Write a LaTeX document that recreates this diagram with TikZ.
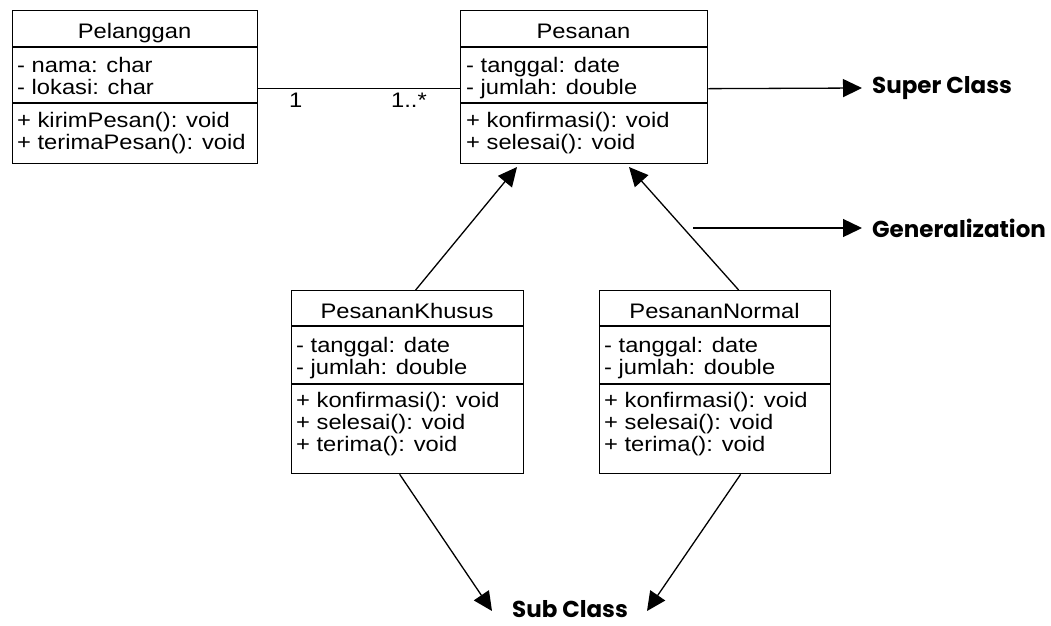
\documentclass[tikz,border=0pt]{standalone}
\usepackage{fontspec}
\setmainfont{Liberation Sans}[FakeStretch=1.13]
\newfontfamily\tagfont{Poppins}
\usetikzlibrary{arrows.meta,calc}

\begin{document}
\begin{tikzpicture}[x=1pt,y=-1pt,
  box/.style={draw, line width=1.3pt, inner sep=0pt, anchor=north west},
  txt/.style={inner sep=0pt, anchor=base west, font=\fontsize{21}{24}\selectfont},
  ttl/.style={inner sep=0pt, anchor=base, font=\fontsize{21}{24}\selectfont},
  sep/.style={line width=1.3pt},
  link/.style={line width=1.3pt},
  arr/.style={line width=1.3pt, -{Triangle[length=19pt,width=18pt]}},
  tag/.style={inner sep=0pt, font=\tagfont\bfseries\fontsize{23}{26}\selectfont}
]
\fill[white] (0,0) rectangle (1051,625);
\useasboundingbox (0,0) rectangle (1051,625);

% ---- Pelanggan ----
\node[box, minimum width=245pt, minimum height=153pt] (pelanggan) at (12,10) {};
\draw[sep] (12,47) -- (257,47);
\draw[sep] (12,103) -- (257,103);
\node[ttl] (pelanggan-t) at (134.5,38) {Pelanggan};
\node[txt] (pelanggan-a1) at (17,72) {- nama: char};
\node[txt] (pelanggan-a2) at (17,94) {- lokasi: char};
\node[txt] (pelanggan-m1) at (17,127) {+ kirimPesan(): void};
\node[txt] (pelanggan-m2) at (17,149) {+ terimaPesan(): void};

% ---- Pesanan ----
\node[box, minimum width=247pt, minimum height=153pt] (pesanan) at (460,10) {};
\draw[sep] (460,47) -- (707,47);
\draw[sep] (460,103) -- (707,103);
\node[ttl] (pesanan-t) at (583.5,38) {Pesanan};
\node[txt] (pesanan-a1) at (466,72) {- tanggal: date};
\node[txt] (pesanan-a2) at (466,94) {- jumlah: double};
\node[txt] (pesanan-m1) at (466,127) {+ konfirmasi(): void};
\node[txt] (pesanan-m2) at (466,149) {+ selesai(): void};

% ---- PesananKhusus ----
\node[box, minimum width=232pt, minimum height=183pt] (khusus) at (291,290) {};
\draw[sep] (291,326) -- (523,326);
\draw[sep] (291,384) -- (523,384);
\node[ttl] (khusus-t) at (407,318) {PesananKhusus};
\node[txt] (khusus-a1) at (296,352) {- tanggal: date};
\node[txt] (khusus-a2) at (296,374) {- jumlah: double};
\node[txt] (khusus-m1) at (296,407) {+ konfirmasi(): void};
\node[txt] (khusus-m2) at (296,429) {+ selesai(): void};
\node[txt] (khusus-m3) at (296,451) {+ terima(): void};

% ---- PesananNormal ----
\node[box, minimum width=231pt, minimum height=183pt] (normal) at (599,290) {};
\draw[sep] (599,326) -- (830,326);
\draw[sep] (599,384) -- (830,384);
\node[ttl] (normal-t) at (714.5,318) {PesananNormal};
\node[txt] (normal-a1) at (604,352) {- tanggal: date};
\node[txt] (normal-a2) at (604,374) {- jumlah: double};
\node[txt] (normal-m1) at (604,407) {+ konfirmasi(): void};
\node[txt] (normal-m2) at (604,429) {+ selesai(): void};
\node[txt] (normal-m3) at (604,451) {+ terima(): void};

% ---- association with multiplicities ----
\draw[link] ([yshift=-1.5pt]pelanggan.east) -- ([yshift=-1.5pt]pesanan.west);
\node[txt] (mult-a) at (289,107) {1};
\node[txt] (mult-b) at (391,107) {1..*};

% ---- annotation labels ----
\node[tag, anchor=west] (super) at (872,88) {Super Class};
\node[tag, anchor=west] (gen) at (872,228) {Generalization};
\node[tag] (sub) at (570,609) {Sub Class};

\coordinate (gen-start) at (693,228);
\coordinate (tip-k) at (517,167);
\coordinate (tip-n) at (629,167);
\coordinate (sub-k) at (492,611);
\coordinate (sub-n) at (647,611);

\draw[arr] ([yshift=-1.5pt]pesanan.east) -- ([xshift=-10pt]super.west);
\draw[arr] (gen-start) -- ([xshift=-10pt]gen.west);

% ---- generalization arrows ----
\draw[arr] ([xshift=8pt]khusus.north) -- (tip-k);
\draw[arr] ([xshift=23.5pt]normal.north) -- (tip-n);

% ---- pointers to the sub classes label ----
\draw[arr] ([xshift=-8pt]khusus.south) -- (sub-k);
\draw[arr] ([xshift=25.5pt]normal.south) -- (sub-n);
\end{tikzpicture}
\end{document}
